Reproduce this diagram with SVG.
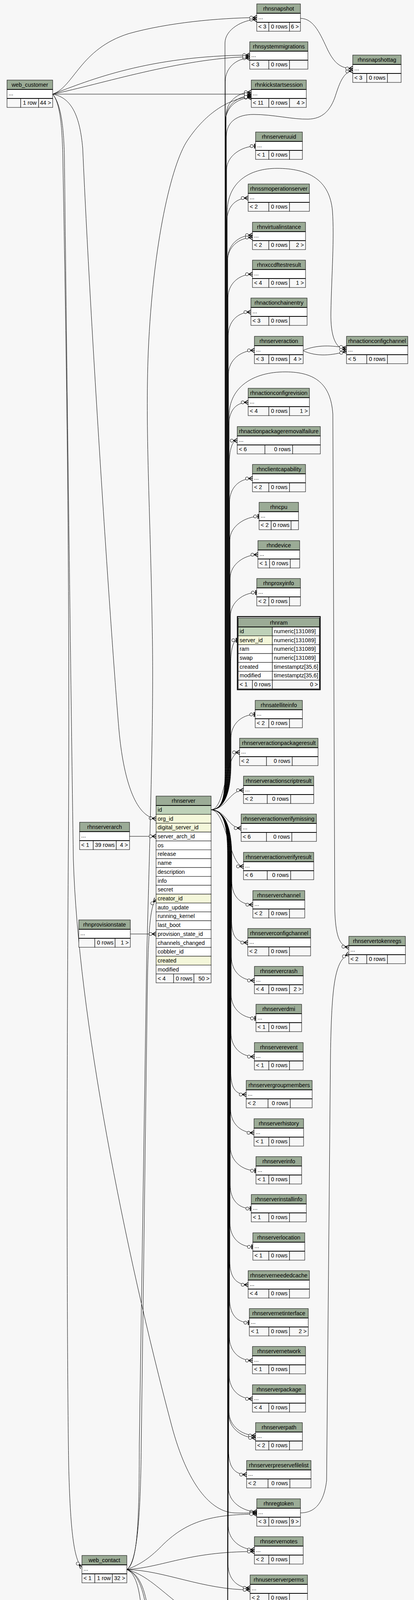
<svg xmlns="http://www.w3.org/2000/svg" width="1061" height="4452" viewBox="0 0 1061 4452">
<style>
.hd{fill:#9bab96;stroke:#000;stroke-width:1}
.bd{fill:#fff;stroke:#000;stroke-width:1}
.ft{fill:#f7f7f7;stroke:#000;stroke-width:1}
.pk{fill:#bed1b8;stroke:#000;stroke-width:1}
.fk{fill:#f4f7da;stroke:#000;stroke-width:1}
.sep{stroke:#000;stroke-width:2;fill:none}
text{font-family:"Liberation Sans",Arial,Helvetica,sans-serif;font-size:14.4px;fill:#000}
.h{text-anchor:middle}
.r{text-anchor:end}
#connectors path{fill:none;stroke:#000;stroke-width:1}
#connectors .c{marker-end:url(#m-crow)}
#connectors .t{marker-end:url(#m-tee)}
</style>
<defs>
<marker id="m-crow" viewBox="-20 -8 22 16" refX="0" refY="0" markerWidth="22" markerHeight="16" markerUnits="userSpaceOnUse" orient="auto" overflow="visible">
<path d="M0,-5.5 L-10,0 L0,5.5 M-10,0 L0,0" fill="none" stroke="#000" stroke-width="1.6"/>
<circle cx="-14" cy="0" r="4" fill="#fff" stroke="#000" stroke-width="1"/>
</marker>
<marker id="m-tee" viewBox="-20 -8 22 16" refX="0" refY="0" markerWidth="22" markerHeight="16" markerUnits="userSpaceOnUse" orient="auto" overflow="visible">
<path d="M-2.5,-6 V6" fill="none" stroke="#000" stroke-width="2.5"/>
<circle cx="-10" cy="0" r="4" fill="#fff" stroke="#000" stroke-width="1"/>
</marker>
</defs>
<rect x="0" y="0" width="1061" height="4452" fill="#f7f7f7"/>

<g id="connectors">
<!-- rhnserver.id bundle: upward -->
<path class="t" d="M541,2073 C575,2071 592,2030 592,1955 L592,1889 C592,1854 619,1829 654,1829"/>
<path class="t" d="M541,2073 C575,2071 591.3,2030 591.3,1955 L591.3,1699 C591.3,1664 597.3,1639 608,1639"/>
<path class="t" d="M541,2073 C575,2071 590.6,2030 590.6,1955 L590.6,1577 C590.6,1542 623,1517 658,1517"/>
<path class="c" d="M541,2073 C575,2071 589.9,2030 589.9,1955 L589.9,1480 C589.9,1445 626,1420 661,1420"/>
<path class="t" d="M541,2073 C575,2071 589.2,2030 589.2,1955 L589.2,1382 C589.2,1347 629,1322 664,1322"/>
<path class="c" d="M541,2073 C575,2071 588.5,2030 588.5,1955 L588.5,1285 C588.5,1250 612,1225 647,1225"/>
<path class="c" d="M541,2073 C575,2071 587.8,2030 587.8,1955 L587.8,1188 C587.8,1153 594,1128 608,1128"/>
<path class="c" d="M541,2073 C575,2071 587.1,2030 587.1,1955 L587.1,1065 C587.1,990 650,952 731,952 C810,952 848,985 853,1060 L858,2330 C860,2390 868,2422 894,2425"/>
<path class="c" d="M541,2073 C575,2071 586.4,2030 586.4,1955 L586.4,1090 C586.4,1055 601,1030 636,1030"/>
<path class="c" d="M541,2073 C575,2071 585.7,2030 585.7,1955 L585.7,957 C585.7,922 617,897 652,897"/>
<path class="c" d="M541,2073 C575,2071 585,2030 585,1955 L585,859 C585,824 608,799 643,799"/>
<path class="c" d="M541,2073 C575,2071 584.3,2030 584.3,1955 L584.3,762 C584.3,727 612,702 647,702"/>
<path class="c" d="M541,2073 C575,2071 583.6,2030 583.6,1955 L583.6,662 C583.6,627 612,602 647,602"/>
<path class="c" d="M541,2073 C575,2071 582.9,2030 582.9,1955 L582.9,668 C582.9,633 612,608 647,608"/>
<path class="c" d="M541,2073 C575,2071 582.2,2030 582.2,1955 L582.2,545 C582.2,465 640,431 710,431 C790,431 845,460 852,540 C857,610 850,700 848,800 C847,862 860,894 888,895"/>
<path class="c" d="M541,2073 C575,2071 581.5,2030 581.5,1955 L581.5,567 C581.5,532 601,507 636,507"/>
<path class="t" d="M541,2073 C575,2071 580.8,2030 580.8,1955 L580.8,434 C580.8,399 620,374 655,374"/>
<path class="c" d="M541,2073 C575,2071 580.1,2030 580.1,1955 L580.1,350 C580.1,310 610,293 650,293 C700,293 750,306 790,305 C825,304 845,285 858,250 C868,220 878,184 904,181"/>
<path class="c" d="M541,2073 C575,2071 579.4,2030 579.4,1955 L579.4,296 C579.4,261 609,236 644,236"/>
<path class="c" d="M541,2073 C575,2071 578.7,2030 578.7,1955 L578.7,305 C578.7,270 609,245 644,245"/>
<path class="c" d="M541,2073 C575,2071 578,2030 578,1955 L578,310 C578,275 609,250 644,250"/>
<path class="c" d="M541,2073 C575,2071 577.3,2030 577.3,1955 L577.3,209 C577.3,174 605,149 640,149"/>
<path class="c" d="M541,2073 C575,2071 576.6,2030 576.6,1955 L576.6,110 C576.6,75 623,50 658,50"/>
<!-- near -->
<path class="c" d="M541,2073 C580,2070 576,1926 614,1926"/>
<path class="c" d="M541,2073 C580,2072 588,2023 624,2023"/>
<path class="c" d="M541,2073 C580,2074 584,2120 618,2120"/>
<path class="c" d="M541,2073 C580,2075 588,2218 624,2218"/>
<!-- downward -->
<path class="c" d="M541,2073 C575,2075 594,2116 594,2191 L594,2256 C594,2291 613,2316 648,2316"/>
<path class="c" d="M541,2073 C575,2075 593.5,2116 593.5,2191 L593.5,2353 C593.5,2388 600,2413 635,2413"/>
<path class="c" d="M541,2073 C575,2075 593,2116 593,2191 L593,2450 C593,2485 617,2510 652,2510"/>
<path class="t" d="M541,2073 C575,2075 592.5,2116 592.5,2191 L592.5,2547 C592.5,2582 621,2607 656,2607"/>
<path class="c" d="M541,2073 C575,2075 592,2116 592,2191 L592,2645 C592,2680 617,2705 652,2705"/>
<path class="c" d="M541,2073 C575,2075 591.5,2116 591.5,2191 L591.5,2742 C591.5,2777 597.5,2802 631,2802"/>
<path class="c" d="M541,2073 C575,2075 591,2116 591,2191 L591,2840 C591,2875 616,2900 651,2900"/>
<path class="t" d="M541,2073 C575,2075 590.5,2116 590.5,2191 L590.5,2937 C590.5,2972 621,2997 656,2997"/>
<path class="t" d="M541,2073 C575,2075 590,2116 590,2191 L590,3034 C590,3069 609,3094 644,3094"/>
<path class="t" d="M541,2073 C575,2075 589.5,2116 589.5,2191 L589.5,3132 C589.5,3167 613,3192 648,3192"/>
<path class="c" d="M541,2073 C575,2075 589,2116 589,2191 L589,3229 C589,3264 601,3289 636,3289"/>
<path class="t" d="M541,2073 C575,2075 588.5,2116 588.5,2191 L588.5,3326 C588.5,3361 604,3386 639,3386"/>
<path class="c" d="M541,2073 C575,2075 588,2116 588,2191 L588,3423 C588,3458 612,3483 647,3483"/>
<path class="c" d="M541,2073 C575,2075 587.5,2116 587.5,2191 L587.5,3521 C587.5,3556 612,3581 647,3581"/>
<path class="c" d="M541,2073 C575,2075 587,2116 587,2191 L587,3615 C587,3650 620,3675 655,3675"/>
<path class="c" d="M541,2073 C575,2075 586.5,2116 586.5,2191 L586.5,3621 C586.5,3656 620,3681 655,3681"/>
<path class="c" d="M541,2073 C575,2075 586,2116 586,2191 L586,3715 C586,3750 597,3775 632,3775"/>
<path class="c" d="M541,2073 C575,2075 585.5,2116 585.5,2191 L585.5,3810 C585.5,3845 623,3870 658,3870"/>
<path class="c" d="M541,2073 C575,2075 585,2116 585,2191 L585,3907 C585,3942 617,3967 652,3967"/>
<path class="c" d="M541,2073 C575,2075 584.5,2116 584.5,2191 L584.5,4005 C584.5,4040 606,4065 641,4065"/>
<path class="c" d="M541,2073 C575,2075 584,2116 584,2191 L584,4102 C584,4137 608,4162 643,4162"/>
<path class="c" d="M541,2073 C575,2075 583.5,2116 583.5,2191 L583.5,4197 C583.5,4232 589.5,4257 624,4257"/>
<path class="c" d="M541,2073 C575,2075 583,2116 583,2191 L583,4296 C583,4331 621,4356 656,4356"/>
<!-- web_customer -->
<path class="c" d="M135,241 C190,222 205,125 330,86 C430,58 560,46 658,45"/>
<path class="c" d="M135,241 C230,205 380,143 640,141"/>
<path class="c" d="M135,241 C260,215 460,150 640,145"/>
<path class="c" d="M135,241 L644,241"/>
<path class="c" d="M135,241 C185,250 205,300 212,380 C235,900 290,1700 305,1870 C316,1990 345,2090 400,2096"/>
<path class="c" d="M135,241 C152,262 159,310 161,400 C170,900 180,1500 175,2200 C170,2900 172,3500 176,3750 C180,3920 190,3995 210,4012"/>
<path class="c" d="M135,241 C153,262 163,310 165,400 C172,1000 182,1800 188,2200 C200,2600 320,3200 440,3650 C480,3800 540,3870 600,3873 C625,3874 640,3873 658,3873"/>
<!-- web_contact -->
<path class="c" d="M325,4018 C350,4000 360,3900 362,3700 L378,2500 C381,2380 385,2318 400,2302"/>
<path class="c" d="M325,4018 C352,4002 357,3900 357,3700 L376,2450 C388,2000 394,1800 390,1600 C385,1300 372,1100 380,900 C392,620 440,420 480,360 C530,285 590,252 644,247"/>
<path class="c" d="M325,4018 C360,4005 385,3988 420,3952 C480,3895 540,3877 658,3876"/>
<path class="c" d="M325,4018 C420,4012 480,3972 652,3972"/>
<path class="c" d="M325,4018 C420,4020 520,4070 641,4070"/>
<path class="c" d="M325,4018 C370,4030 400,4060 450,4100 C520,4150 580,4167 643,4167"/>
<path class="c" d="M325,4018 C358,4030 370,4080 378,4140 C395,4205 440,4240 500,4254 C550,4262 590,4261 624,4261"/>
<path class="c" d="M325,4018 C362,4030 374,4080 382,4140 C399,4205 444,4242 504,4257 C554,4265 592,4265 624,4265"/>
<path class="c" d="M325,4018 C355,4030 365,4100 365,4200 C368,4270 420,4330 520,4352 C580,4361 620,4360 656,4360"/>
<!-- others -->
<path class="c" d="M332,2141 L400,2141"/>
<path class="c" d="M334,2391 L400,2391"/>
<path class="c" d="M770,47 C805,47 822,90 840,128 C856,160 872,176 904,175"/>
<path class="c" d="M777,897 C812,882 852,884 888,891"/>
<path class="c" d="M777,898 C812,914 852,910 888,899"/>
<path class="c" d="M770,3873 C805,3873 830,3850 837,3790 L847,2700 C850,2520 858,2460 894,2442"/>
</g>

<g id="web_customer"><rect class="hd" x="18" y="205" width="117" height="24"/><rect class="bd" x="18" y="229" width="117" height="23"/><rect class="ft" x="18" y="252" width="35" height="23"/><rect class="ft" x="53" y="252" width="46" height="23"/><rect class="ft" x="99" y="252" width="36" height="23"/><path class="sep" d="M18,229H135M18,252H135"/><text class="h" x="76.5" y="222">web_customer</text><text x="22" y="244">...</text><text class="r" x="94" y="268">1 row</text><text class="r" x="131" y="268">44 &gt;</text></g>

<g id="rhnsnapshot"><rect class="hd" x="658" y="10" width="112" height="24"/><rect class="bd" x="658" y="34" width="112" height="23"/><rect class="ft" x="658" y="57" width="31" height="23"/><rect class="ft" x="689" y="57" width="53" height="23"/><rect class="ft" x="742" y="57" width="28" height="23"/><path class="sep" d="M658,34H770M658,57H770"/><text class="h" x="714" y="27">rhnsnapshot</text><text x="662" y="49">...</text><text x="662" y="73">&lt; 3</text><text class="r" x="737" y="73">0 rows</text><text class="r" x="766" y="73">6 &gt;</text></g>

<g id="rhnsystemmigrations"><rect class="hd" x="640" y="107" width="149" height="24"/><rect class="bd" x="640" y="131" width="149" height="23"/><rect class="ft" x="640" y="154" width="49" height="23"/><rect class="ft" x="689" y="154" width="53" height="23"/><rect class="ft" x="742" y="154" width="47" height="23"/><path class="sep" d="M640,131H789M640,154H789"/><text class="h" x="714.5" y="124">rhnsystemmigrations</text><text x="644" y="146">...</text><text x="644" y="170">&lt; 3</text><text class="r" x="737" y="170">0 rows</text></g>

<g id="rhnkickstartsession"><rect class="hd" x="644" y="205" width="141" height="24"/><rect class="bd" x="644" y="229" width="141" height="23"/><rect class="ft" x="644" y="252" width="45" height="23"/><rect class="ft" x="689" y="252" width="53" height="23"/><rect class="ft" x="742" y="252" width="43" height="23"/><path class="sep" d="M644,229H785M644,252H785"/><text class="h" x="714.5" y="222">rhnkickstartsession</text><text x="648" y="244">...</text><text x="648" y="268">&lt; 11</text><text class="r" x="737" y="268">0 rows</text><text class="r" x="781" y="268">4 &gt;</text></g>

<g id="rhnsnapshottag"><rect class="hd" x="904" y="141" width="124" height="24"/><rect class="bd" x="904" y="165" width="124" height="23"/><rect class="ft" x="904" y="188" width="36" height="23"/><rect class="ft" x="940" y="188" width="53" height="23"/><rect class="ft" x="993" y="188" width="35" height="23"/><path class="sep" d="M904,165H1028M904,188H1028"/><text class="h" x="966" y="158">rhnsnapshottag</text><text x="908" y="180">...</text><text x="908" y="204">&lt; 3</text><text class="r" x="988" y="204">0 rows</text></g>

<g id="rhnserveruuid"><rect class="hd" x="655" y="338" width="120" height="24"/><rect class="bd" x="655" y="362" width="120" height="23"/><rect class="ft" x="655" y="385" width="34" height="23"/><rect class="ft" x="689" y="385" width="53" height="23"/><rect class="ft" x="742" y="385" width="33" height="23"/><path class="sep" d="M655,362H775M655,385H775"/><text class="h" x="715" y="355">rhnserveruuid</text><text x="659" y="377">...</text><text x="659" y="401">&lt; 1</text><text class="r" x="737" y="401">0 rows</text></g>

<g id="rhnssmoperationserver"><rect class="hd" x="636" y="471" width="157" height="24"/><rect class="bd" x="636" y="495" width="157" height="23"/><rect class="ft" x="636" y="518" width="53" height="23"/><rect class="ft" x="689" y="518" width="53" height="23"/><rect class="ft" x="742" y="518" width="51" height="23"/><path class="sep" d="M636,495H793M636,518H793"/><text class="h" x="714.5" y="488">rhnssmoperationserver</text><text x="640" y="510">...</text><text x="640" y="534">&lt; 2</text><text class="r" x="737" y="534">0 rows</text></g>

<g id="rhnvirtualinstance"><rect class="hd" x="647" y="569" width="136" height="24"/><rect class="bd" x="647" y="593" width="136" height="23"/><rect class="ft" x="647" y="616" width="42" height="23"/><rect class="ft" x="689" y="616" width="53" height="23"/><rect class="ft" x="742" y="616" width="41" height="23"/><path class="sep" d="M647,593H783M647,616H783"/><text class="h" x="715" y="586">rhnvirtualinstance</text><text x="651" y="608">...</text><text x="651" y="632">&lt; 2</text><text class="r" x="737" y="632">0 rows</text><text class="r" x="779" y="632">2 &gt;</text></g>

<g id="rhnxccdftestresult"><rect class="hd" x="647" y="666" width="136" height="24"/><rect class="bd" x="647" y="690" width="136" height="23"/><rect class="ft" x="647" y="713" width="42" height="23"/><rect class="ft" x="689" y="713" width="53" height="23"/><rect class="ft" x="742" y="713" width="41" height="23"/><path class="sep" d="M647,690H783M647,713H783"/><text class="h" x="715" y="683">rhnxccdftestresult</text><text x="651" y="705">...</text><text x="651" y="729">&lt; 4</text><text class="r" x="737" y="729">0 rows</text><text class="r" x="779" y="729">1 &gt;</text></g>

<g id="rhnactionchainentry"><rect class="hd" x="643" y="763" width="144" height="24"/><rect class="bd" x="643" y="787" width="144" height="23"/><rect class="ft" x="643" y="810" width="46" height="23"/><rect class="ft" x="689" y="810" width="53" height="23"/><rect class="ft" x="742" y="810" width="45" height="23"/><path class="sep" d="M643,787H787M643,810H787"/><text class="h" x="715" y="780">rhnactionchainentry</text><text x="647" y="802">...</text><text x="647" y="826">&lt; 3</text><text class="r" x="737" y="826">0 rows</text></g>

<g id="rhnserveraction"><rect class="hd" x="652" y="861" width="125" height="24"/><rect class="bd" x="652" y="885" width="125" height="23"/><rect class="ft" x="652" y="908" width="37" height="23"/><rect class="ft" x="689" y="908" width="53" height="23"/><rect class="ft" x="742" y="908" width="35" height="23"/><path class="sep" d="M652,885H777M652,908H777"/><text class="h" x="714.5" y="878">rhnserveraction</text><text x="656" y="900">...</text><text x="656" y="924">&lt; 3</text><text class="r" x="737" y="924">0 rows</text><text class="r" x="773" y="924">4 &gt;</text></g>

<g id="rhnactionconfigchannel"><rect class="hd" x="888" y="861" width="157" height="24"/><rect class="bd" x="888" y="885" width="157" height="23"/><rect class="ft" x="888" y="908" width="52" height="23"/><rect class="ft" x="940" y="908" width="53" height="23"/><rect class="ft" x="993" y="908" width="52" height="23"/><path class="sep" d="M888,885H1045M888,908H1045"/><text class="h" x="966.5" y="878">rhnactionconfigchannel</text><text x="892" y="900">...</text><text x="892" y="924">&lt; 5</text><text class="r" x="988" y="924">0 rows</text></g>

<g id="rhnactionconfigrevision"><rect class="hd" x="636" y="994" width="157" height="24"/><rect class="bd" x="636" y="1018" width="157" height="23"/><rect class="ft" x="636" y="1041" width="53" height="23"/><rect class="ft" x="689" y="1041" width="53" height="23"/><rect class="ft" x="742" y="1041" width="51" height="23"/><path class="sep" d="M636,1018H793M636,1041H793"/><text class="h" x="714.5" y="1011">rhnactionconfigrevision</text><text x="640" y="1033">...</text><text x="640" y="1057">&lt; 4</text><text class="r" x="737" y="1057">0 rows</text><text class="r" x="789" y="1057">1 &gt;</text></g>

<g id="rhnactionpackageremovalfailure"><rect class="hd" x="608" y="1092" width="213" height="24"/><rect class="bd" x="608" y="1116" width="213" height="23"/><rect class="ft" x="608" y="1139" width="71" height="23"/><rect class="ft" x="679" y="1139" width="71" height="23"/><rect class="ft" x="750" y="1139" width="71" height="23"/><path class="sep" d="M608,1116H821M608,1139H821"/><text class="h" x="714.5" y="1109">rhnactionpackageremovalfailure</text><text x="612" y="1131">...</text><text x="612" y="1155">&lt; 6</text><text class="r" x="745" y="1155">0 rows</text></g>

<g id="rhnclientcapability"><rect class="hd" x="647" y="1189" width="136" height="24"/><rect class="bd" x="647" y="1213" width="136" height="23"/><rect class="ft" x="647" y="1236" width="42" height="23"/><rect class="ft" x="689" y="1236" width="53" height="23"/><rect class="ft" x="742" y="1236" width="41" height="23"/><path class="sep" d="M647,1213H783M647,1236H783"/><text class="h" x="715" y="1206">rhnclientcapability</text><text x="651" y="1228">...</text><text x="651" y="1252">&lt; 2</text><text class="r" x="737" y="1252">0 rows</text></g>

<g id="rhncpu"><rect class="hd" x="664" y="1286" width="101" height="24"/><rect class="bd" x="664" y="1310" width="101" height="23"/><rect class="ft" x="664" y="1333" width="31" height="23"/><rect class="ft" x="695" y="1333" width="51" height="23"/><rect class="ft" x="746" y="1333" width="19" height="23"/><path class="sep" d="M664,1310H765M664,1333H765"/><text class="h" x="714.5" y="1303">rhncpu</text><text x="668" y="1325">...</text><text x="668" y="1349">&lt; 2</text><text class="r" x="742" y="1349">0 rows</text></g>

<g id="rhndevice"><rect class="hd" x="661" y="1384" width="107" height="24"/><rect class="bd" x="661" y="1408" width="107" height="23"/><rect class="ft" x="661" y="1431" width="30" height="23"/><rect class="ft" x="691" y="1431" width="53" height="23"/><rect class="ft" x="744" y="1431" width="24" height="23"/><path class="sep" d="M661,1408H768M661,1431H768"/><text class="h" x="714.5" y="1401">rhndevice</text><text x="665" y="1423">...</text><text x="665" y="1447">&lt; 1</text><text class="r" x="739" y="1447">0 rows</text></g>

<g id="rhnproxyinfo"><rect class="hd" x="658" y="1481" width="112" height="24"/><rect class="bd" x="658" y="1505" width="112" height="23"/><rect class="ft" x="658" y="1528" width="31" height="23"/><rect class="ft" x="689" y="1528" width="53" height="23"/><rect class="ft" x="742" y="1528" width="28" height="23"/><path class="sep" d="M658,1505H770M658,1528H770"/><text class="h" x="714" y="1498">rhnproxyinfo</text><text x="662" y="1520">...</text><text x="662" y="1544">&lt; 2</text><text class="r" x="737" y="1544">0 rows</text></g>

<g id="rhnram">
<rect x="608.5" y="1578.5" width="212" height="187" fill="#fff" stroke="#000" stroke-width="2.5"/>
<rect class="hd" x="610.5" y="1582" width="208" height="23"/>
<text class="h" x="714.5" y="1599">rhnram</text>
<rect class="pk" x="610.5" y="1605" width="87.5" height="22.7"/><rect class="bd" x="698" y="1605" width="120.5" height="22.7"/>
<rect class="fk" x="610.5" y="1627.7" width="87.5" height="22.7"/><rect class="bd" x="698" y="1627.7" width="120.5" height="22.7"/>
<rect class="bd" x="610.5" y="1650.4" width="87.5" height="22.7"/><rect class="bd" x="698" y="1650.4" width="120.5" height="22.7"/>
<rect class="bd" x="610.5" y="1673.1" width="87.5" height="22.7"/><rect class="bd" x="698" y="1673.1" width="120.5" height="22.7"/>
<rect class="bd" x="610.5" y="1695.8" width="87.5" height="22.7"/><rect class="bd" x="698" y="1695.8" width="120.5" height="22.7"/>
<rect class="bd" x="610.5" y="1718.5" width="87.5" height="22.7"/><rect class="bd" x="698" y="1718.5" width="120.5" height="22.7"/>
<rect class="ft" x="610.5" y="1741.2" width="36.5" height="22"/><rect class="ft" x="647" y="1741.2" width="51" height="22"/><rect class="ft" x="698" y="1741.2" width="120.5" height="22"/>
<path class="sep" d="M610.5,1605H818.5"/>
<text x="614" y="1621">id</text><text x="702" y="1621">numeric[131089]</text>
<text x="614" y="1644">server_id</text><text x="702" y="1644">numeric[131089]</text>
<text x="614" y="1666">ram</text><text x="702" y="1666">numeric[131089]</text>
<text x="614" y="1689">swap</text><text x="702" y="1689">numeric[131089]</text>
<text x="614" y="1712">created</text><text x="702" y="1712">timestamptz[35,6]</text>
<text x="614" y="1734">modified</text><text x="702" y="1734">timestamptz[35,6]</text>
<text x="614" y="1757">&lt; 1</text><text class="r" x="694" y="1757">0 rows</text><text class="r" x="815" y="1757">0 &gt;</text>
</g>

<g id="rhnsatelliteinfo"><rect class="hd" x="654" y="1793" width="121" height="24"/><rect class="bd" x="654" y="1817" width="121" height="23"/><rect class="ft" x="654" y="1840" width="35" height="23"/><rect class="ft" x="689" y="1840" width="53" height="23"/><rect class="ft" x="742" y="1840" width="33" height="23"/><path class="sep" d="M654,1817H775M654,1840H775"/><text class="h" x="714.5" y="1810">rhnsatelliteinfo</text><text x="658" y="1832">...</text><text x="658" y="1856">&lt; 2</text><text class="r" x="737" y="1856">0 rows</text></g>

<g id="rhnserveractionpackageresult"><rect class="hd" x="614" y="1890" width="201" height="24"/><rect class="bd" x="614" y="1914" width="201" height="23"/><rect class="ft" x="614" y="1937" width="69" height="23"/><rect class="ft" x="683" y="1937" width="66" height="23"/><rect class="ft" x="749" y="1937" width="66" height="23"/><path class="sep" d="M614,1914H815M614,1937H815"/><text class="h" x="714.5" y="1907">rhnserveractionpackageresult</text><text x="618" y="1929">...</text><text x="618" y="1953">&lt; 2</text><text class="r" x="744" y="1953">0 rows</text></g>

<g id="rhnserveractionscriptresult"><rect class="hd" x="624" y="1987" width="180" height="24"/><rect class="bd" x="624" y="2011" width="180" height="23"/><rect class="ft" x="624" y="2034" width="61" height="23"/><rect class="ft" x="685" y="2034" width="60" height="23"/><rect class="ft" x="745" y="2034" width="59" height="23"/><path class="sep" d="M624,2011H804M624,2034H804"/><text class="h" x="714" y="2004">rhnserveractionscriptresult</text><text x="628" y="2026">...</text><text x="628" y="2050">&lt; 2</text><text class="r" x="740" y="2050">0 rows</text></g>

<g id="rhnserveractionverifymissing"><rect class="hd" x="618" y="2084" width="193" height="24"/><rect class="bd" x="618" y="2108" width="193" height="23"/><rect class="ft" x="618" y="2131" width="65" height="23"/><rect class="ft" x="683" y="2131" width="65" height="23"/><rect class="ft" x="748" y="2131" width="63" height="23"/><path class="sep" d="M618,2108H811M618,2131H811"/><text class="h" x="714.5" y="2101">rhnserveractionverifymissing</text><text x="622" y="2123">...</text><text x="622" y="2147">&lt; 6</text><text class="r" x="743" y="2147">0 rows</text></g>

<g id="rhnserveractionverifyresult"><rect class="hd" x="624" y="2182" width="180" height="24"/><rect class="bd" x="624" y="2206" width="180" height="23"/><rect class="ft" x="624" y="2229" width="61" height="23"/><rect class="ft" x="685" y="2229" width="60" height="23"/><rect class="ft" x="745" y="2229" width="59" height="23"/><path class="sep" d="M624,2206H804M624,2229H804"/><text class="h" x="714" y="2199">rhnserveractionverifyresult</text><text x="628" y="2221">...</text><text x="628" y="2245">&lt; 6</text><text class="r" x="740" y="2245">0 rows</text></g>

<g id="rhnserver">
<rect class="hd" x="400" y="2038" width="141" height="24"/>
<text class="h" x="470.5" y="2055">rhnserver</text>
<rect class="pk" x="400" y="2062" width="141" height="22.7"/>
<rect class="fk" x="400" y="2084.7" width="141" height="22.7"/>
<rect class="fk" x="400" y="2107.4" width="141" height="22.7"/>
<rect class="bd" x="400" y="2130.1" width="141" height="22.7"/>
<rect class="bd" x="400" y="2152.8" width="141" height="22.7"/>
<rect class="bd" x="400" y="2175.5" width="141" height="22.7"/>
<rect class="bd" x="400" y="2198.2" width="141" height="22.7"/>
<rect class="bd" x="400" y="2220.9" width="141" height="22.7"/>
<rect class="bd" x="400" y="2243.6" width="141" height="22.7"/>
<rect class="bd" x="400" y="2266.3" width="141" height="22.7"/>
<rect class="fk" x="400" y="2289" width="141" height="22.7"/>
<rect class="bd" x="400" y="2311.7" width="141" height="22.7"/>
<rect class="bd" x="400" y="2334.4" width="141" height="22.7"/>
<rect class="bd" x="400" y="2357.1" width="141" height="22.7"/>
<rect class="bd" x="400" y="2379.8" width="141" height="22.7"/>
<rect class="bd" x="400" y="2402.5" width="141" height="22.7"/>
<rect class="bd" x="400" y="2425.2" width="141" height="22.7"/>
<rect class="fk" x="400" y="2447.9" width="141" height="22.7"/>
<rect class="bd" x="400" y="2470.6" width="141" height="22.7"/>
<rect class="ft" x="400" y="2493.3" width="45" height="22.7"/><rect class="ft" x="445" y="2493.3" width="52" height="22.7"/><rect class="ft" x="497" y="2493.3" width="44" height="22.7"/>
<path class="sep" d="M400,2062H541"/>
<text x="404" y="2078">id</text>
<text x="404" y="2101">org_id</text>
<text x="404" y="2123">digital_server_id</text>
<text x="404" y="2146">server_arch_id</text>
<text x="404" y="2169">os</text>
<text x="404" y="2191">release</text>
<text x="404" y="2214">name</text>
<text x="404" y="2237">description</text>
<text x="404" y="2260">info</text>
<text x="404" y="2282">secret</text>
<text x="404" y="2305">creator_id</text>
<text x="404" y="2328">auto_update</text>
<text x="404" y="2350">running_kernel</text>
<text x="404" y="2373">last_boot</text>
<text x="404" y="2396">provision_state_id</text>
<text x="404" y="2419">channels_changed</text>
<text x="404" y="2441">cobbler_id</text>
<text x="404" y="2464">created</text>
<text x="404" y="2487">modified</text>
<text x="404" y="2510">&lt; 4</text><text class="r" x="493" y="2510">0 rows</text><text class="r" x="537" y="2510">50 &gt;</text>
</g>

<g id="rhnserverarch"><rect class="hd" x="204" y="2105" width="128" height="24"/><rect class="bd" x="204" y="2129" width="128" height="23"/><rect class="ft" x="204" y="2152" width="35" height="23"/><rect class="ft" x="239" y="2152" width="59" height="23"/><rect class="ft" x="298" y="2152" width="34" height="23"/><path class="sep" d="M204,2129H332M204,2152H332"/><text class="h" x="268" y="2122">rhnserverarch</text><text x="208" y="2144">...</text><text x="208" y="2168">&lt; 1</text><text class="r" x="294" y="2168">39 rows</text><text class="r" x="328" y="2168">4 &gt;</text></g>

<g id="rhnprovisionstate"><rect class="hd" x="202" y="2355" width="132" height="24"/><rect class="bd" x="202" y="2379" width="132" height="23"/><rect class="ft" x="202" y="2402" width="41" height="23"/><rect class="ft" x="243" y="2402" width="52" height="23"/><rect class="ft" x="295" y="2402" width="39" height="23"/><path class="sep" d="M202,2379H334M202,2402H334"/><text class="h" x="268" y="2372">rhnprovisionstate</text><text x="206" y="2394">...</text><text class="r" x="291" y="2418">0 rows</text><text class="r" x="330" y="2418">1 &gt;</text></g>

<g id="rhnserverchannel"><rect class="hd" x="648" y="2280" width="133" height="24"/><rect class="bd" x="648" y="2304" width="133" height="23"/><rect class="ft" x="648" y="2327" width="41" height="23"/><rect class="ft" x="689" y="2327" width="53" height="23"/><rect class="ft" x="742" y="2327" width="39" height="23"/><path class="sep" d="M648,2304H781M648,2327H781"/><text class="h" x="714.5" y="2297">rhnserverchannel</text><text x="652" y="2319">...</text><text x="652" y="2343">&lt; 2</text><text class="r" x="737" y="2343">0 rows</text></g>

<g id="rhnserverconfigchannel"><rect class="hd" x="635" y="2377" width="161" height="24"/><rect class="bd" x="635" y="2401" width="161" height="23"/><rect class="ft" x="635" y="2424" width="54" height="23"/><rect class="ft" x="689" y="2424" width="53" height="23"/><rect class="ft" x="742" y="2424" width="54" height="23"/><path class="sep" d="M635,2401H796M635,2424H796"/><text class="h" x="715.5" y="2394">rhnserverconfigchannel</text><text x="639" y="2416">...</text><text x="639" y="2440">&lt; 2</text><text class="r" x="737" y="2440">0 rows</text></g>

<g id="rhnservertokenregs"><rect class="hd" x="894" y="2397" width="145" height="24"/><rect class="bd" x="894" y="2421" width="145" height="23"/><rect class="ft" x="894" y="2444" width="46" height="23"/><rect class="ft" x="940" y="2444" width="53" height="23"/><rect class="ft" x="993" y="2444" width="46" height="23"/><path class="sep" d="M894,2421H1039M894,2444H1039"/><text class="h" x="966.5" y="2414">rhnservertokenregs</text><text x="898" y="2436">...</text><text x="898" y="2460">&lt; 2</text><text class="r" x="988" y="2460">0 rows</text></g>

<g id="rhnservercrash"><rect class="hd" x="652" y="2474" width="125" height="24"/><rect class="bd" x="652" y="2498" width="125" height="23"/><rect class="ft" x="652" y="2521" width="37" height="23"/><rect class="ft" x="689" y="2521" width="53" height="23"/><rect class="ft" x="742" y="2521" width="35" height="23"/><path class="sep" d="M652,2498H777M652,2521H777"/><text class="h" x="714.5" y="2491">rhnservercrash</text><text x="656" y="2513">...</text><text x="656" y="2537">&lt; 4</text><text class="r" x="737" y="2537">0 rows</text><text class="r" x="773" y="2537">2 &gt;</text></g>

<g id="rhnserverdmi"><rect class="hd" x="656" y="2571" width="117" height="24"/><rect class="bd" x="656" y="2595" width="117" height="23"/><rect class="ft" x="656" y="2618" width="33" height="23"/><rect class="ft" x="689" y="2618" width="53" height="23"/><rect class="ft" x="742" y="2618" width="31" height="23"/><path class="sep" d="M656,2595H773M656,2618H773"/><text class="h" x="714.5" y="2588">rhnserverdmi</text><text x="660" y="2610">...</text><text x="660" y="2634">&lt; 1</text><text class="r" x="737" y="2634">0 rows</text></g>

<g id="rhnserverevent"><rect class="hd" x="652" y="2669" width="125" height="24"/><rect class="bd" x="652" y="2693" width="125" height="23"/><rect class="ft" x="652" y="2716" width="37" height="23"/><rect class="ft" x="689" y="2716" width="53" height="23"/><rect class="ft" x="742" y="2716" width="35" height="23"/><path class="sep" d="M652,2693H777M652,2716H777"/><text class="h" x="714.5" y="2686">rhnserverevent</text><text x="656" y="2708">...</text><text x="656" y="2732">&lt; 1</text><text class="r" x="737" y="2732">0 rows</text></g>

<g id="rhnservergroupmembers"><rect class="hd" x="631" y="2766" width="169" height="24"/><rect class="bd" x="631" y="2790" width="169" height="23"/><rect class="ft" x="631" y="2813" width="56" height="23"/><rect class="ft" x="687" y="2813" width="57" height="23"/><rect class="ft" x="744" y="2813" width="56" height="23"/><path class="sep" d="M631,2790H800M631,2813H800"/><text class="h" x="715.5" y="2783">rhnservergroupmembers</text><text x="635" y="2805">...</text><text x="635" y="2829">&lt; 2</text><text class="r" x="739" y="2829">0 rows</text></g>

<g id="rhnserverhistory"><rect class="hd" x="651" y="2864" width="127" height="24"/><rect class="bd" x="651" y="2888" width="127" height="23"/><rect class="ft" x="651" y="2911" width="38" height="23"/><rect class="ft" x="689" y="2911" width="53" height="23"/><rect class="ft" x="742" y="2911" width="36" height="23"/><path class="sep" d="M651,2888H778M651,2911H778"/><text class="h" x="714.5" y="2881">rhnserverhistory</text><text x="655" y="2903">...</text><text x="655" y="2927">&lt; 1</text><text class="r" x="737" y="2927">0 rows</text></g>

<g id="rhnserverinfo"><rect class="hd" x="656" y="2961" width="117" height="24"/><rect class="bd" x="656" y="2985" width="117" height="23"/><rect class="ft" x="656" y="3008" width="33" height="23"/><rect class="ft" x="689" y="3008" width="53" height="23"/><rect class="ft" x="742" y="3008" width="31" height="23"/><path class="sep" d="M656,2985H773M656,3008H773"/><text class="h" x="714.5" y="2978">rhnserverinfo</text><text x="660" y="3000">...</text><text x="660" y="3024">&lt; 1</text><text class="r" x="737" y="3024">0 rows</text></g>

<g id="rhnserverinstallinfo"><rect class="hd" x="644" y="3058" width="141" height="24"/><rect class="bd" x="644" y="3082" width="141" height="23"/><rect class="ft" x="644" y="3105" width="45" height="23"/><rect class="ft" x="689" y="3105" width="53" height="23"/><rect class="ft" x="742" y="3105" width="43" height="23"/><path class="sep" d="M644,3082H785M644,3105H785"/><text class="h" x="714.5" y="3075">rhnserverinstallinfo</text><text x="648" y="3097">...</text><text x="648" y="3121">&lt; 1</text><text class="r" x="737" y="3121">0 rows</text></g>

<g id="rhnserverlocation"><rect class="hd" x="648" y="3156" width="133" height="24"/><rect class="bd" x="648" y="3180" width="133" height="23"/><rect class="ft" x="648" y="3203" width="41" height="23"/><rect class="ft" x="689" y="3203" width="53" height="23"/><rect class="ft" x="742" y="3203" width="39" height="23"/><path class="sep" d="M648,3180H781M648,3203H781"/><text class="h" x="714.5" y="3173">rhnserverlocation</text><text x="652" y="3195">...</text><text x="652" y="3219">&lt; 1</text><text class="r" x="737" y="3219">0 rows</text></g>

<g id="rhnserverneededcache"><rect class="hd" x="636" y="3253" width="157" height="24"/><rect class="bd" x="636" y="3277" width="157" height="23"/><rect class="ft" x="636" y="3300" width="53" height="23"/><rect class="ft" x="689" y="3300" width="53" height="23"/><rect class="ft" x="742" y="3300" width="51" height="23"/><path class="sep" d="M636,3277H793M636,3300H793"/><text class="h" x="714.5" y="3270">rhnserverneededcache</text><text x="640" y="3292">...</text><text x="640" y="3316">&lt; 4</text><text class="r" x="737" y="3316">0 rows</text></g>

<g id="rhnservernetinterface"><rect class="hd" x="639" y="3350" width="151" height="24"/><rect class="bd" x="639" y="3374" width="151" height="23"/><rect class="ft" x="639" y="3397" width="50" height="23"/><rect class="ft" x="689" y="3397" width="53" height="23"/><rect class="ft" x="742" y="3397" width="48" height="23"/><path class="sep" d="M639,3374H790M639,3397H790"/><text class="h" x="714.5" y="3367">rhnservernetinterface</text><text x="643" y="3389">...</text><text x="643" y="3413">&lt; 1</text><text class="r" x="737" y="3413">0 rows</text><text class="r" x="786" y="3413">2 &gt;</text></g>

<g id="rhnservernetwork"><rect class="hd" x="647" y="3447" width="136" height="24"/><rect class="bd" x="647" y="3471" width="136" height="23"/><rect class="ft" x="647" y="3494" width="42" height="23"/><rect class="ft" x="689" y="3494" width="53" height="23"/><rect class="ft" x="742" y="3494" width="41" height="23"/><path class="sep" d="M647,3471H783M647,3494H783"/><text class="h" x="715" y="3464">rhnservernetwork</text><text x="651" y="3486">...</text><text x="651" y="3510">&lt; 1</text><text class="r" x="737" y="3510">0 rows</text></g>

<g id="rhnserverpackage"><rect class="hd" x="647" y="3545" width="136" height="24"/><rect class="bd" x="647" y="3569" width="136" height="23"/><rect class="ft" x="647" y="3592" width="42" height="23"/><rect class="ft" x="689" y="3592" width="53" height="23"/><rect class="ft" x="742" y="3592" width="41" height="23"/><path class="sep" d="M647,3569H783M647,3592H783"/><text class="h" x="715" y="3562">rhnserverpackage</text><text x="651" y="3584">...</text><text x="651" y="3608">&lt; 4</text><text class="r" x="737" y="3608">0 rows</text></g>

<g id="rhnserverpath"><rect class="hd" x="655" y="3642" width="120" height="24"/><rect class="bd" x="655" y="3666" width="120" height="23"/><rect class="ft" x="655" y="3689" width="34" height="23"/><rect class="ft" x="689" y="3689" width="53" height="23"/><rect class="ft" x="742" y="3689" width="33" height="23"/><path class="sep" d="M655,3666H775M655,3689H775"/><text class="h" x="715" y="3659">rhnserverpath</text><text x="659" y="3681">...</text><text x="659" y="3705">&lt; 2</text><text class="r" x="737" y="3705">0 rows</text></g>

<g id="rhnserverpreservefilelist"><rect class="hd" x="632" y="3739" width="165" height="24"/><rect class="bd" x="632" y="3763" width="165" height="23"/><rect class="ft" x="632" y="3786" width="55" height="23"/><rect class="ft" x="687" y="3786" width="56" height="23"/><rect class="ft" x="743" y="3786" width="54" height="23"/><path class="sep" d="M632,3763H797M632,3786H797"/><text class="h" x="714.5" y="3756">rhnserverpreservefilelist</text><text x="636" y="3778">...</text><text x="636" y="3802">&lt; 2</text><text class="r" x="738" y="3802">0 rows</text></g>

<g id="rhnregtoken"><rect class="hd" x="658" y="3837" width="112" height="24"/><rect class="bd" x="658" y="3861" width="112" height="23"/><rect class="ft" x="658" y="3884" width="31" height="23"/><rect class="ft" x="689" y="3884" width="53" height="23"/><rect class="ft" x="742" y="3884" width="28" height="23"/><path class="sep" d="M658,3861H770M658,3884H770"/><text class="h" x="714" y="3854">rhnregtoken</text><text x="662" y="3876">...</text><text x="662" y="3900">&lt; 3</text><text class="r" x="737" y="3900">0 rows</text><text class="r" x="766" y="3900">9 &gt;</text></g>

<g id="rhnservernotes"><rect class="hd" x="652" y="3934" width="125" height="24"/><rect class="bd" x="652" y="3958" width="125" height="23"/><rect class="ft" x="652" y="3981" width="37" height="23"/><rect class="ft" x="689" y="3981" width="53" height="23"/><rect class="ft" x="742" y="3981" width="35" height="23"/><path class="sep" d="M652,3958H777M652,3981H777"/><text class="h" x="714.5" y="3951">rhnservernotes</text><text x="656" y="3973">...</text><text x="656" y="3997">&lt; 2</text><text class="r" x="737" y="3997">0 rows</text></g>

<g id="web_contact"><rect class="hd" x="210" y="3982" width="115" height="24"/><rect class="bd" x="210" y="4006" width="115" height="23"/><rect class="ft" x="210" y="4029" width="33" height="23"/><rect class="ft" x="243" y="4029" width="45" height="23"/><rect class="ft" x="288" y="4029" width="37" height="23"/><path class="sep" d="M210,4006H325M210,4029H325"/><text class="h" x="267.5" y="3999">web_contact</text><text x="214" y="4021">...</text><text x="214" y="4045">&lt; 1</text><text class="r" x="284" y="4045">1 row</text><text class="r" x="321" y="4045">32 &gt;</text></g>

<g id="rhnuserserverperms"><rect class="hd" x="641" y="4032" width="147" height="24"/><rect class="bd" x="641" y="4056" width="147" height="23"/><rect class="ft" x="641" y="4079" width="48" height="23"/><rect class="ft" x="689" y="4079" width="53" height="23"/><rect class="ft" x="742" y="4079" width="46" height="23"/><path class="sep" d="M641,4056H788M641,4079H788"/><text class="h" x="714.5" y="4049">rhnuserserverperms</text><text x="645" y="4071">...</text><text x="645" y="4095">&lt; 2</text><text class="r" x="737" y="4095">0 rows</text></g>

<g id="rhnuserserverprefs"><rect class="hd" x="643" y="4129" width="142" height="24"/><rect class="bd" x="643" y="4153" width="142" height="23"/><rect class="ft" x="643" y="4176" width="46" height="23"/><rect class="ft" x="689" y="4176" width="53" height="23"/><rect class="ft" x="742" y="4176" width="43" height="23"/><path class="sep" d="M643,4153H785M643,4176H785"/><text class="h" x="714" y="4146">rhnuserserverprefs</text><text x="647" y="4168">...</text><text x="647" y="4192">&lt; 2</text><text class="r" x="737" y="4192">0 rows</text></g>

<g id="rhnservercustomdatavalue"><rect class="hd" x="624" y="4226" width="180" height="24"/><rect class="bd" x="624" y="4250" width="180" height="23"/><rect class="ft" x="624" y="4273" width="61" height="23"/><rect class="ft" x="685" y="4273" width="60" height="23"/><rect class="ft" x="745" y="4273" width="59" height="23"/><path class="sep" d="M624,4250H804M624,4273H804"/><text class="h" x="714" y="4243">rhnservercustomdatavalue</text><text x="628" y="4265">...</text><text x="628" y="4289">&lt; 4</text><text class="r" x="740" y="4289">0 rows</text></g>

<g id="rhnserverlock"><rect class="hd" x="656" y="4323" width="117" height="24"/><rect class="bd" x="656" y="4347" width="117" height="23"/><rect class="ft" x="656" y="4370" width="33" height="23"/><rect class="ft" x="689" y="4370" width="53" height="23"/><rect class="ft" x="742" y="4370" width="31" height="23"/><path class="sep" d="M656,4347H773M656,4370H773"/><text class="h" x="714.5" y="4340">rhnserverlock</text><text x="660" y="4362">...</text><text x="660" y="4386">&lt; 2</text><text class="r" x="737" y="4386">0 rows</text></g>

<text x="16" y="4435">Generated by SchemaSpy</text>
</svg>
